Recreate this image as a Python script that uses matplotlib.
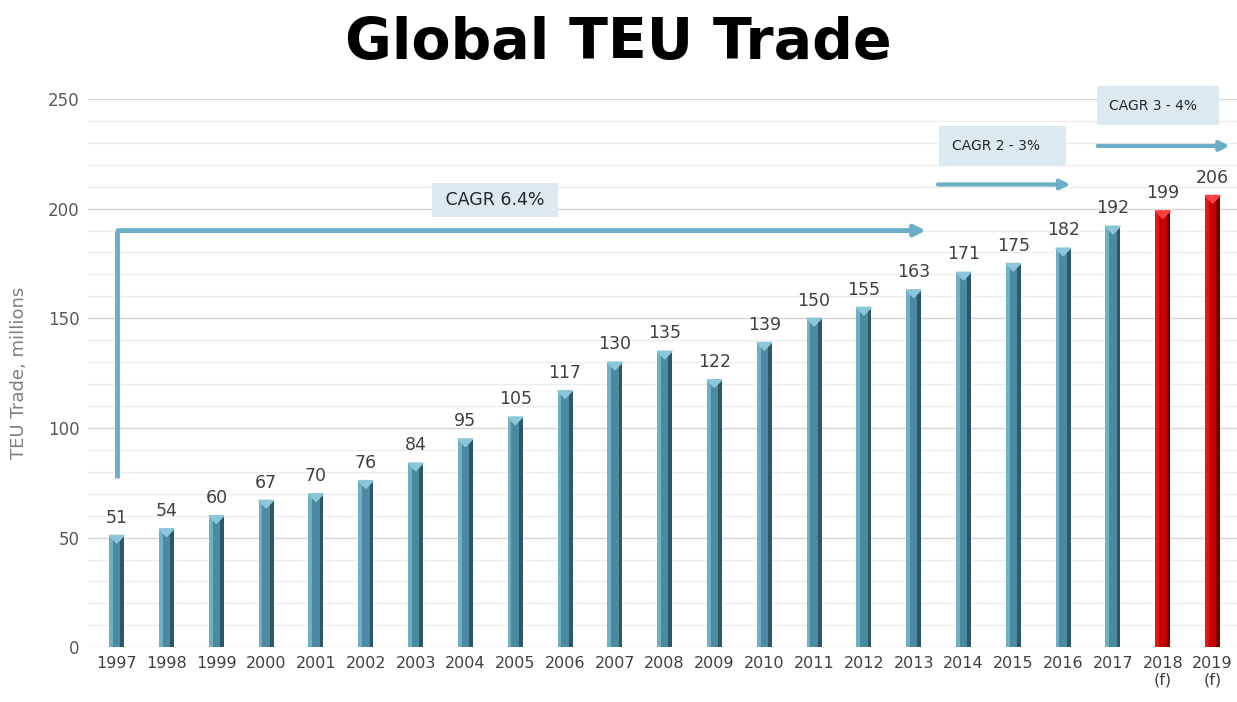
import matplotlib.pyplot as plt
from matplotlib.patches import Polygon, FancyArrowPatch

years = ["1997", "1998", "1999", "2000", "2001", "2002", "2003", "2004", "2005",
         "2006", "2007", "2008", "2009", "2010", "2011", "2012", "2013", "2014",
         "2015", "2016", "2017", "2018\n(f)", "2019\n(f)"]
teu = [51, 54, 60, 67, 70, 76, 84, 95, 105, 117, 130, 135, 122, 139, 150,
       155, 163, 171, 175, 182, 192, 199, 206]
forecast = [False] * 21 + [True, True]

blue = dict(face="#4b8aa0", light="#6fb0c6", dark="#2c5868", cap="#8cc7d9")
red = dict(face="#c40000", light="#e01818", dark="#7a0000", cap="#ff4040")

fig = plt.figure(figsize=(12.37, 7.02), dpi=100)
ax = fig.add_axes([0.071, 0.078, 0.929, 0.781])

x = list(range(len(years)))
w = 0.30
bev = 0.075   # width of the side bevels
cap_h = 3.5   # height of the pyramid top

for xi, v, fc in zip(x, teu, forecast):
    c = red if fc else blue
    ax.bar(xi, v, width=w, color=c["face"], zorder=3)
    ax.bar(xi - w / 2 + bev / 2, v, width=bev, color=c["light"], zorder=4)
    ax.bar(xi + w / 2 - bev / 2, v, width=bev, color=c["dark"], zorder=4)
    top = Polygon([(xi - w / 2, v), (xi + w / 2, v), (xi, v - cap_h)],
                  closed=True, color=c["cap"], zorder=5)
    ax.add_patch(top)
    ax.text(xi, v + 4, str(v), ha="center", va="bottom", fontsize=12.5,
            color="#404040", zorder=6)

ax.set_xlim(-0.58, 22.49)
ax.set_ylim(0, 250)
ax.set_xticks(x)
ax.set_xticklabels(years, fontsize=11.5, color="#404040", linespacing=1.15)
ax.set_yticks(range(0, 251, 50))
ax.set_yticklabels([str(t) for t in range(0, 251, 50)], fontsize=12, color="#595959")
ax.set_yticks(range(0, 251, 10), minor=True)
ax.tick_params(axis="both", length=0, pad=6)
ax.tick_params(axis="y", which="minor", length=0)
ax.grid(axis="y", which="major", color="#d6d6d6", linewidth=1, zorder=0)
ax.grid(axis="y", which="minor", color="#ededed", linewidth=1, zorder=0)
for s in ax.spines.values():
    s.set_visible(False)
ax.set_ylabel("TEU Trade, millions", fontsize=13, color="#7f7f7f", labelpad=14)

fig.text(0.5, 0.938, "Global TEU Trade", ha="center", va="center",
         fontsize=41, fontweight="heavy", color="black")

arrow_col = "#6aaec8"
box_col = "#dce9f1"

# long-run growth: elbow arrow from 1997 to 2013
ax.plot([0, 0], [77, 190], color=arrow_col, lw=3.5, solid_capstyle="butt",
        zorder=2)
ax.add_patch(FancyArrowPatch((-0.03, 190), (16.3, 190), arrowstyle="-|>",
                             mutation_scale=16, color=arrow_col, lw=3.5, zorder=2))
ax.text(7.6, 204, " CAGR 6.4% ", ha="center", va="center", fontsize=12.5,
        color="#262626", zorder=6,
        bbox=dict(boxstyle="square,pad=0.45", fc=box_col, ec="none"))

# near-term and forecast growth
ax.add_patch(FancyArrowPatch((16.43, 211), (19.2, 211), arrowstyle="-|>",
                             mutation_scale=14, color=arrow_col, lw=3, zorder=2))
ax.text(17.78, 228.6, "CAGR 2 - 3%   ", ha="center", va="center", fontsize=10,
        color="#262626", zorder=6,
        bbox=dict(boxstyle="square,pad=0.95", fc=box_col, ec="none"))
ax.add_patch(FancyArrowPatch((19.64, 228.6), (22.4, 228.6), arrowstyle="-|>",
                             mutation_scale=14, color=arrow_col, lw=3, zorder=2,
                             clip_on=False))
ax.text(20.9, 246.8, "CAGR 3 - 4%  ", ha="center", va="center", fontsize=10,
        color="#262626", zorder=6,
        bbox=dict(boxstyle="square,pad=0.9", fc=box_col, ec="none"))

fig.savefig("out.png", dpi=100)
